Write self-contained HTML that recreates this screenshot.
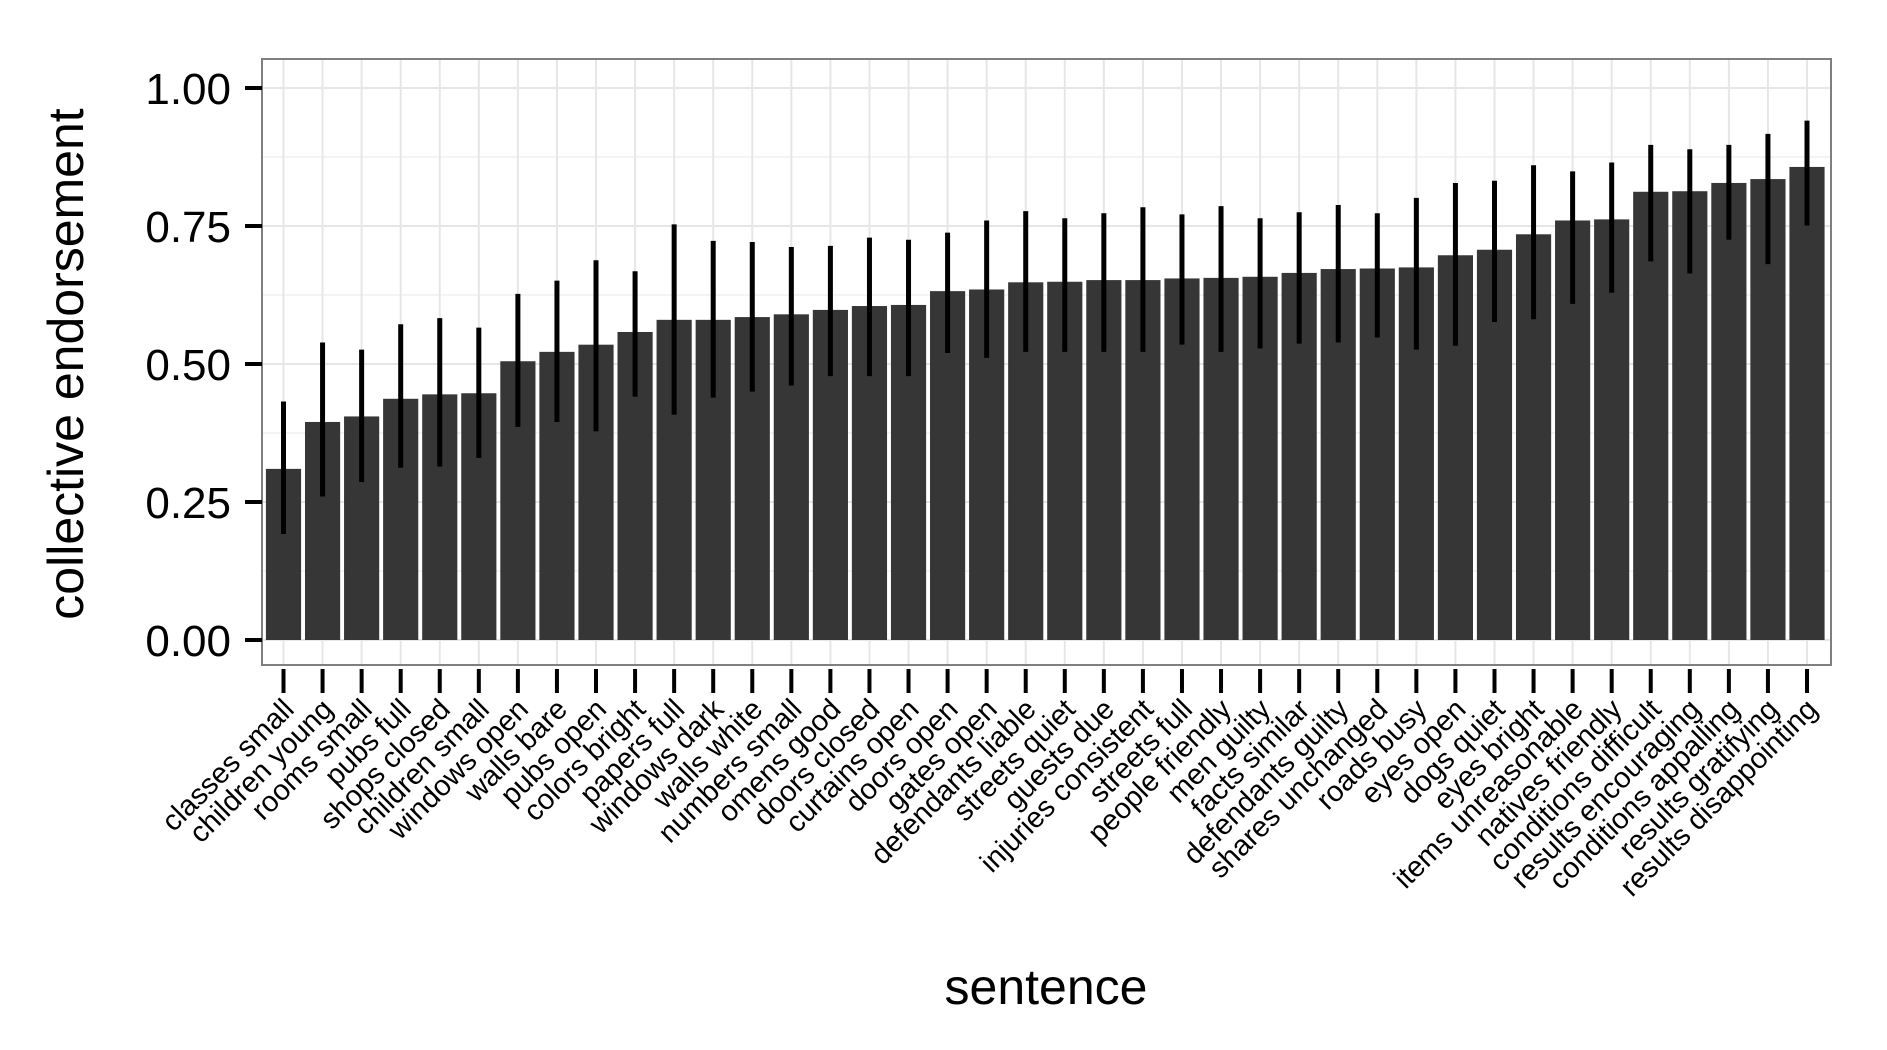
<!DOCTYPE html>
<html><head><meta charset="utf-8"><style>
html,body{margin:0;padding:0;background:#fff;}
svg{display:block;font-family:"Liberation Sans",Arial,sans-serif;}
</style></head><body>
<svg id="chart" width="1887" height="1050" viewBox="0 0 1887 1050" xmlns="http://www.w3.org/2000/svg">
<rect x="0" y="0" width="1887" height="1050" fill="#fff"/>
<g id="grid"></g>
<g id="bars"></g>
<g id="errs"></g>
<rect x="262" y="59" width="1569" height="606" fill="none" stroke="#7f7f7f" stroke-width="2"/>
<g id="yaxis"></g>
<g id="xaxis"></g>
<text x="0" y="0" transform="translate(83,364) rotate(-90)" text-anchor="middle" font-size="50" fill="#000">collective endorsement</text>
<text x="1046" y="1004" text-anchor="middle" font-size="50" fill="#000">sentence</text>
</svg>
<script>
const categories = ["classes small","children young","rooms small","pubs full","shops closed","children small","windows open","walls bare","pubs open","colors bright","papers full","windows dark","walls white","numbers small","omens good","doors closed","curtains open","doors open","gates open","defendants liable","streets quiet","guests due","injuries consistent","streets full","people friendly","men guilty","facts similar","defendants guilty","shares unchanged","roads busy","eyes open","dogs quiet","eyes bright","items unreasonable","natives friendly","conditions difficult","results encouraging","conditions appalling","results gratifying","results disappointing"];
const values = [0.31,0.395,0.405,0.437,0.445,0.447,0.505,0.522,0.535,0.558,0.58,0.58,0.585,0.59,0.598,0.605,0.607,0.632,0.635,0.648,0.649,0.652,0.652,0.655,0.656,0.658,0.665,0.672,0.673,0.675,0.697,0.707,0.735,0.76,0.762,0.812,0.813,0.828,0.835,0.857];
const upper = [0.432,0.539,0.526,0.572,0.583,0.566,0.627,0.651,0.688,0.668,0.753,0.723,0.721,0.712,0.714,0.729,0.725,0.738,0.760,0.777,0.764,0.773,0.784,0.771,0.786,0.764,0.775,0.788,0.773,0.801,0.828,0.832,0.860,0.849,0.865,0.897,0.889,0.897,0.917,0.941];
const lower = [0.192,0.260,0.286,0.312,0.314,0.330,0.386,0.395,0.378,0.441,0.408,0.439,0.450,0.461,0.478,0.478,0.478,0.520,0.511,0.522,0.522,0.522,0.522,0.535,0.522,0.528,0.537,0.539,0.548,0.526,0.533,0.576,0.581,0.609,0.629,0.686,0.664,0.725,0.681,0.751];
const yTicks = [0,0.25,0.5,0.75,1];
const yTickLabels = ["0.00","0.25","0.50","0.75","1.00"];

const NS="http://www.w3.org/2000/svg";
const PL=262, PR=1831, PT=59, PB=665;
const Y0=640, Y1=88;
function yScale(v){return Y0+(Y1-Y0)*v;}
const first=283.5, last=1807;
const step=(last-first)/(categories.length-1);
function xScale(i){return first+i*step;}
function mk(tag,attrs,parent){const e=document.createElementNS(NS,tag);for(const k in attrs)e.setAttribute(k,attrs[k]);parent.appendChild(e);return e;}

const grid=document.getElementById('grid');
for(let i=0;i<yTicks.length-1;i++){
  const v=(yTicks[i]+yTicks[i+1])/2;
  const l=mk('line',{x1:PL,x2:PR,y1:yScale(v),y2:yScale(v),stroke:'#f4f4f4','stroke-width':2},grid);
  
  
}
yTicks.forEach(v=>{
  const l=mk('line',{x1:PL,x2:PR,y1:yScale(v),y2:yScale(v),stroke:'#e6e6e6','stroke-width':2},grid);
  
  
});
categories.forEach((c,i)=>{
  const l=mk('line',{x1:xScale(i),x2:xScale(i),y1:PT,y2:PB,stroke:'#e6e6e6','stroke-width':2},grid);
  
  
});

const bars=document.getElementById('bars'), errs=document.getElementById('errs');
const bw=step*0.9;
values.forEach((v,i)=>{
  const r=mk('rect',{x:xScale(i)-bw/2,y:yScale(v),width:bw,height:Y0-yScale(v),fill:'#363636'},bars);
  
  
  const e=mk('line',{x1:xScale(i),x2:xScale(i),y1:yScale(upper[i]),y2:yScale(lower[i]),stroke:'#000','stroke-width':5},errs);
  
  
});

const yax=document.getElementById('yaxis');
yTicks.forEach((v,i)=>{
  const t=mk('line',{x1:245,x2:262,y1:yScale(v),y2:yScale(v),stroke:'#000','stroke-width':4},yax);
  
  
  const tx=mk('text',{x:231,y:yScale(v)+16,'text-anchor':'end','font-size':44,fill:'#000'},yax);
  tx.textContent=yTickLabels[i];
  
  
});
const xax=document.getElementById('xaxis');
categories.forEach((c,i)=>{
  const x=xScale(i);
  const t=mk('line',{x1:x,x2:x,y1:PB+4,y2:PB+28,stroke:'#000','stroke-width':4},xax);
  
  
  const tx=mk('text',{x:0,y:0,'text-anchor':'end','font-size':29,fill:'#000',transform:'translate('+(x+12)+',711) rotate(-45)'},xax);
  tx.textContent=c;
  
  
});
</script>
</body></html>
